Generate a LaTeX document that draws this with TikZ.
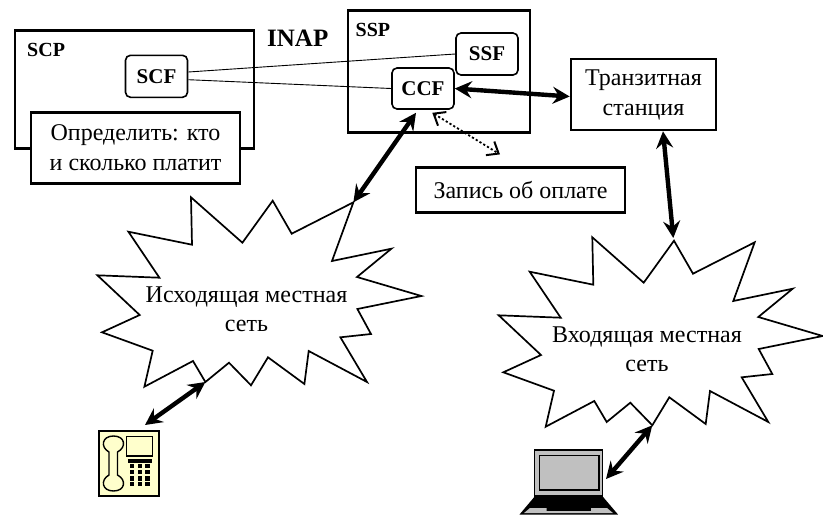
\documentclass[tikz,border=0pt]{standalone}
\usepackage{fontspec}
\setmainfont{Liberation Serif}
\usetikzlibrary{arrows.meta}
\definecolor{phoneyellow}{HTML}{FFFFCC}
\definecolor{lapgray}{HTML}{C0C0C0}
\tikzset{
  bigbox/.style={draw, line width=2.6pt, minimum width=#1, inner sep=0pt, align=center, font=\fontsize{24}{30}\selectfont},
  funcbox/.style={draw, line width=1.6pt, rounded corners=5pt, inner sep=0pt, font=\fontsize{21}{25}\selectfont\bfseries},
  plainlab/.style={inner sep=0pt, font=\fontsize{20}{24}\selectfont\bfseries},
  netlab/.style={inner sep=0pt, align=center, font=\fontsize{24}{29}\selectfont},
  boldlink/.style={{Stealth[length=17pt,width=17pt,inset=6pt]}-{Stealth[length=17pt,width=17pt,inset=6pt]}, line width=4.4pt},
  thinlink/.style={line width=0.9pt},
  dotlink/.style={{Straight Barb[length=10pt,width=16pt,line width=2pt]}-{Straight Barb[length=10pt,width=16pt,line width=2pt]}, line width=1.8pt, dash pattern=on 2.2pt off 2.2pt},
}
\newcommand{\netcloud}[2]{%
  \draw[line width=1.7pt, line join=miter, shift={#1}]
    (102.3,17.3) -- (153.7,62.7) -- (184,20.7) coordinate (#2top) -- (203,53.7) -- (264.7,22.3) coordinate (#2corner)
    -- (243.3,81) -- (302.7,68.7) -- (268.3,97) -- (332.7,116) -- (268.7,129) -- (282.3,154)
    -- (251.7,157.3) -- (278.3,202) -- (220,171) -- (215.7,204) -- (179.3,177.3) -- (162.3,205.3) coordinate (#2lowa)
    -- (140.3,182.7) -- (116.7,202) coordinate (#2lowb) -- (104.3,181) -- (55.7,206.7) -- (64,170.7) -- (13.3,152.3)
    -- (51,135) -- (8.7,95.3) -- (70.7,97.7) -- (39.7,51.7) -- (103.3,64.7) -- cycle;
}
\begin{document}
\begin{tikzpicture}[x=1pt, y=-1pt]
\useasboundingbox (0,0) rectangle (823,515);

% service nodes
\node[bigbox=239pt, minimum height=118pt] (SCP) at (134.5,89.5) {};
\node[plainlab, anchor=base west] (SCPlab) at (27,56) {SCP};
\node[funcbox, minimum width=62pt, minimum height=42pt] (SCF) at (156.5,76.3) {SCF};
\node[bigbox=209pt, minimum height=71pt, fill=white] (Pay) at (135.5,147.7) {Определить: кто\\и сколько платит};
\node[inner sep=0pt, anchor=base west, font=\fontsize{25}{30}\selectfont\bfseries] (INAP) at (267,46) {INAP};

\node[bigbox=182pt, minimum height=122pt] (SSP) at (439,71.5) {};
\node[plainlab, anchor=base west] (SSPlab) at (355.5,36) {SSP};
\node[funcbox, minimum width=62pt, minimum height=42pt] (SSF) at (487,54) {SSF};
\node[funcbox, minimum width=62pt, minimum height=41pt] (CCF) at (423,88.5) {CCF};

\node[bigbox=145pt, minimum height=71pt] (Transit) at (643.5,94.5) {Транзитная\\станция};
\node[bigbox=209pt, minimum height=45pt] (Record) at (520.5,190) {Запись об оплате};

% networks
\netcloud{(88.7,180)}{out}
\node[netlab] (Outnet) at (246.5,309) {Исходящая местная\\сеть};
\netcloud{(490,220)}{in}
\node[netlab] (Innet) at (647,349) {Входящая местная\\сеть};

% telephone
\node[draw, line width=1.5pt, fill=phoneyellow, minimum width=60pt, minimum height=65pt, inner sep=0pt] (Phone) at (129,463.5) {};
\coordinate (Phonetip) at (145,425);
\draw[line width=1.4pt] (109,452) .. controls (100,447) and (102,436) .. (113.5,436)
  .. controls (125,436) and (127,447) .. (117.5,452) -- (117.5,475)
  .. controls (127,480) and (125,491) .. (113.5,491)
  .. controls (102,491) and (100,480) .. (109,475) -- cycle;
\draw[line width=1.3pt] (126.7,436.5) rectangle (152.7,456);
\fill (127.7,459) rectangle (152.3,462.5);
\foreach \keyx in {132,139.7,147.3}
  \foreach \keyy in {465.7,472,478.3,484}
    \fill (\keyx-2.2,\keyy-2.2) rectangle (\keyx+2.2,\keyy+2.2);

% notebook
\node[draw, line width=1.2pt, fill=lapgray, minimum width=68pt, minimum height=46pt, inner sep=0pt] (Laptop) at (568.7,473) {};
\coordinate (Laptoptip) at (606,479);
\draw[line width=1.6pt] (539.3,455.5) rectangle (598.7,490);
\fill (534.7,496.5) -- (602.7,496.5) -- (618,514.5) -- (519.5,514.5) -- cycle;
\fill[lapgray] (524,513) -- (530,508) -- (546.5,508) -- (546.5,511) -- (591,511) -- (591,508) -- (607,508) -- (613,513) -- cycle;

% connections
\draw[thinlink] ([yshift=4.3pt]SCF.east) -- (SSF.west);
\draw[thinlink] ([yshift=-3.4pt]SCF.east) -- (CCF.west);
\draw[boldlink] (CCF.east) -- ([yshift=-2pt]Transit.west);
\draw[boldlink] ([xshift=19.5pt]Transit.south) -- ([shift={(-0.7,-2.7)}]intop);
\draw[boldlink] ([xshift=-7pt,yshift=-3pt]CCF.south) -- (outcorner);
\draw[dotlink] ([xshift=9.3pt,yshift=-3pt]CCF.south) -- ([xshift=-20.5pt,yshift=11.8pt]Record.north);
\draw[boldlink] (outlowb) -- (Phonetip);
\draw[boldlink] (inlowa) -- (Laptoptip);
\end{tikzpicture}
\end{document}
